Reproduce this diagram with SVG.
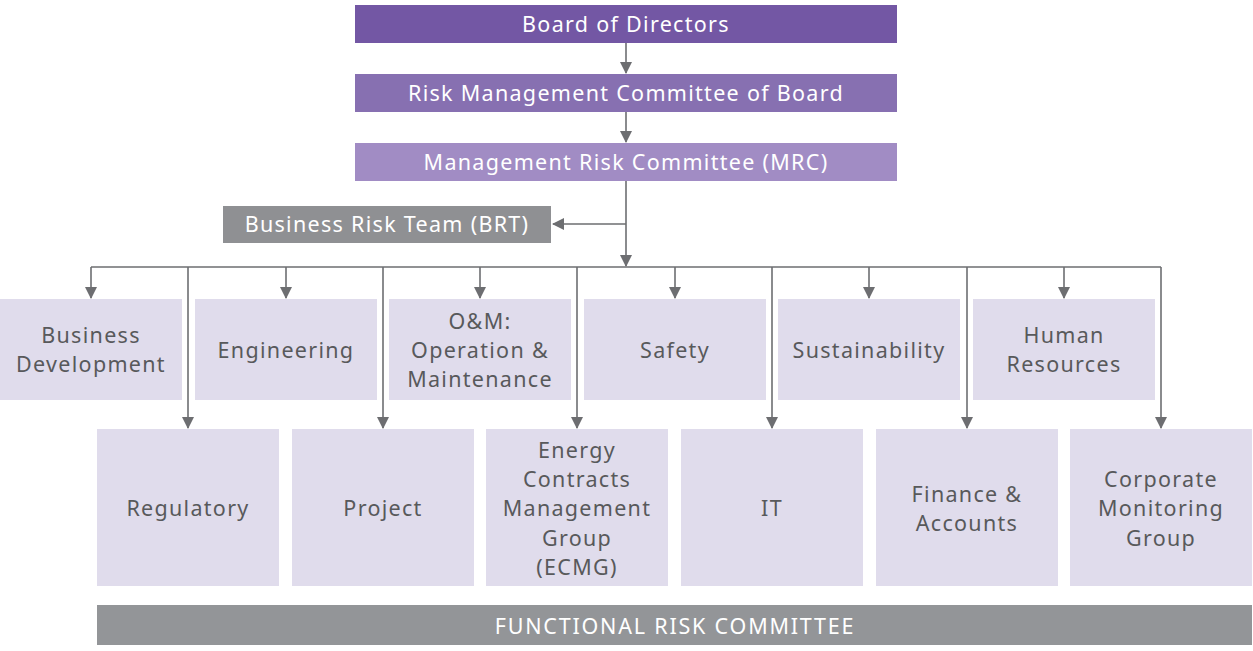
<svg xmlns="http://www.w3.org/2000/svg" width="1253" height="651" viewBox="0 0 1253 651">
<defs>
<marker id="ah" markerUnits="userSpaceOnUse" markerWidth="12" markerHeight="16" viewBox="0 0 12 16" refX="11" refY="6" orient="auto">
<path d="M0,0 L12,6 L0,12 Z" fill="#6d6e71"/>
</marker>
<style>
.t{font-family:"Noto Sans","Open Sans",sans-serif;font-size:21.5px;letter-spacing:1.3px;text-anchor:middle}
.w{fill:#ffffff}
.d{fill:#58595b}
.lav{fill:#e0dcec}
.c{stroke:#6d6e71;stroke-width:1.6;fill:none}
.ca{stroke:#6d6e71;stroke-width:1.6;fill:none;marker-end:url(#ah)}
</style>
</defs>
<rect width="1253" height="651" fill="#ffffff"/>
<g id="connectors">
<line class="ca" x1="626" y1="43" x2="626" y2="73"/>
<line class="ca" x1="626" y1="112" x2="626" y2="142"/>
<line class="ca" x1="626" y1="181" x2="626" y2="266"/>
<line class="ca" x1="626" y1="224" x2="553" y2="224"/>
<polyline class="c" points="91,267 1161,267"/>
<line class="ca" x1="91" y1="267" x2="91" y2="298"/>
<line class="ca" x1="286" y1="267" x2="286" y2="298"/>
<line class="ca" x1="480" y1="267" x2="480" y2="298"/>
<line class="ca" x1="675" y1="267" x2="675" y2="298"/>
<line class="ca" x1="869" y1="267" x2="869" y2="298"/>
<line class="ca" x1="1064" y1="267" x2="1064" y2="298"/>
<line class="ca" x1="188" y1="267" x2="188" y2="428"/>
<line class="ca" x1="383" y1="267" x2="383" y2="428"/>
<line class="ca" x1="577" y1="267" x2="577" y2="428"/>
<line class="ca" x1="772" y1="267" x2="772" y2="428"/>
<line class="ca" x1="967" y1="267" x2="967" y2="428"/>
<line class="ca" x1="1161" y1="267" x2="1161" y2="428"/>
</g>
<g id="board">
<rect x="355" y="5" width="542" height="38" fill="#7357a4"/>
<text class="t w" x="626" y="32">Board of Directors</text>
</g>
<g id="rmc">
<rect x="355" y="74" width="542" height="38" fill="#8770b1"/>
<text class="t w" x="626" y="101">Risk Management Committee of Board</text>
</g>
<g id="mrc">
<rect x="355" y="143" width="542" height="38" fill="#a18cc4"/>
<text class="t w" x="626" y="170">Management Risk Committee (MRC)</text>
</g>
<g id="brt">
<rect x="223" y="206" width="328" height="37" fill="#8f9093"/>
<text class="t w" x="387" y="232">Business Risk Team (BRT)</text>
</g>
<g id="bizdev">
<rect class="lav" x="0" y="299" width="182" height="101"/>
<text class="t d" x="91" y="343">Business</text>
<text class="t d" x="91" y="372">Development</text>
</g>
<g id="engineering">
<rect class="lav" x="195" y="299" width="182" height="101"/>
<text class="t d" x="286" y="358">Engineering</text>
</g>
<g id="om">
<rect class="lav" x="389" y="299" width="182" height="101"/>
<text class="t d" x="480" y="329">O&amp;M:</text>
<text class="t d" x="480" y="358">Operation &amp;</text>
<text class="t d" x="480" y="387">Maintenance</text>
</g>
<g id="safety">
<rect class="lav" x="584" y="299" width="182" height="101"/>
<text class="t d" x="675" y="358">Safety</text>
</g>
<g id="sustainability">
<rect class="lav" x="778" y="299" width="182" height="101"/>
<text class="t d" x="869" y="358">Sustainability</text>
</g>
<g id="hr">
<rect class="lav" x="973" y="299" width="182" height="101"/>
<text class="t d" x="1064" y="343">Human</text>
<text class="t d" x="1064" y="372">Resources</text>
</g>
<g id="regulatory">
<rect class="lav" x="97" y="429" width="182" height="157"/>
<text class="t d" x="188" y="516">Regulatory</text>
</g>
<g id="project">
<rect class="lav" x="292" y="429" width="182" height="157"/>
<text class="t d" x="383" y="516">Project</text>
</g>
<g id="ecmg">
<rect class="lav" x="486" y="429" width="182" height="157"/>
<text class="t d" x="577" y="458">Energy</text>
<text class="t d" x="577" y="487">Contracts</text>
<text class="t d" x="577" y="516">Management</text>
<text class="t d" x="577" y="546">Group</text>
<text class="t d" x="577" y="575">(ECMG)</text>
</g>
<g id="it">
<rect class="lav" x="681" y="429" width="182" height="157"/>
<text class="t d" x="772" y="516">IT</text>
</g>
<g id="finance">
<rect class="lav" x="876" y="429" width="182" height="157"/>
<text class="t d" x="967" y="502">Finance &amp;</text>
<text class="t d" x="967" y="531">Accounts</text>
</g>
<g id="cmg">
<rect class="lav" x="1070" y="429" width="182" height="157"/>
<text class="t d" x="1161" y="487">Corporate</text>
<text class="t d" x="1161" y="516">Monitoring</text>
<text class="t d" x="1161" y="546">Group</text>
</g>
<g id="frc">
<rect x="97" y="605" width="1155" height="40" fill="#939598"/>
<text class="t w" x="675" y="634" style="letter-spacing:1.8px">FUNCTIONAL RISK COMMITTEE</text>
</g>
</svg>
